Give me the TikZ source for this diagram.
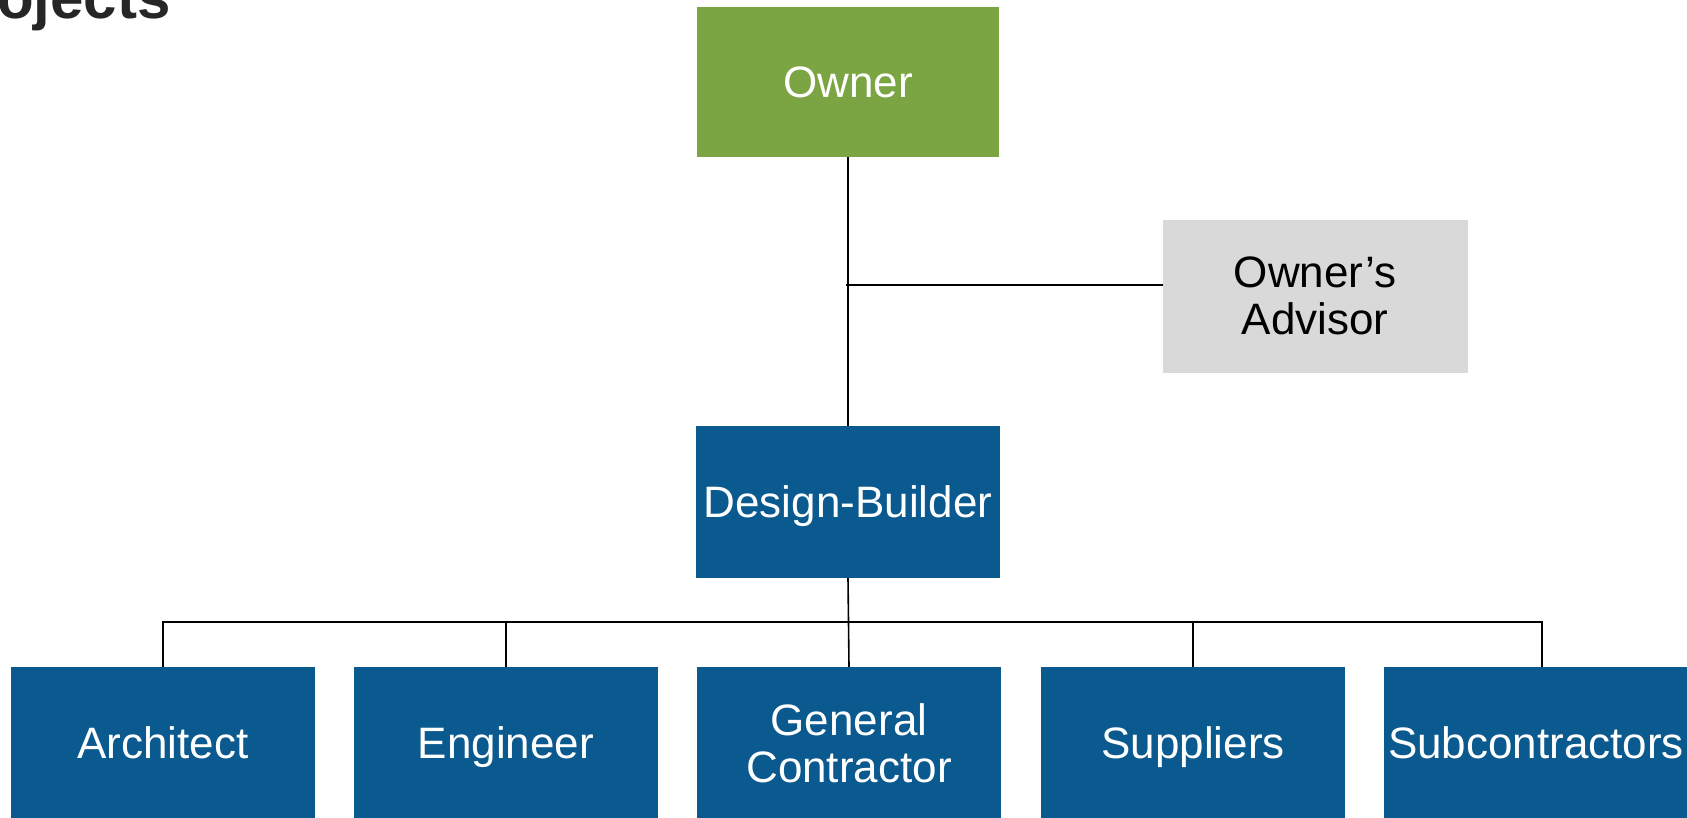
\documentclass[tikz,border=0pt]{standalone}
\usepackage{fontspec}
\setmainfont{Liberation Sans}
\definecolor{dbblue}{HTML}{0B5A8F}
\definecolor{owngreen}{HTML}{7AA542}
\definecolor{advgray}{HTML}{D9D9D9}
\definecolor{titlegray}{HTML}{262626}
\begin{document}
\begin{tikzpicture}[x=1pt,y=-1pt,
  box/.style={rectangle,inner sep=0pt,minimum width=304pt,minimum height=152pt,align=center,
    font=\fontsize{44}{47}\selectfont},
  oneline/.style={text height=31pt,text depth=1pt},
  bluebox/.style={box,fill=dbblue,text=white},
  greenbox/.style={box,fill=owngreen,text=white,minimum width=302pt,minimum height=150pt},
  graybox/.style={box,fill=advgray,draw=black!15,text=black},
  conn/.style={draw=black,line width=1.6pt}]
\useasboundingbox (0,0) rectangle (1687,817);
\node[anchor=base west,text=titlegray,font=\fontsize{60}{60}\bfseries,inner sep=0pt] (title) at (-3,18) {ojects};
\node[greenbox,oneline] (own) at (848,82) {Owner};
\node[graybox] (adv) at (1315,296) {Owner’s\\Advisor};
\node[bluebox,oneline] (db) at (848,502) {Design-Builder};
\node[bluebox,oneline] (arch) at (163,743) {Architect};
\node[bluebox,oneline] (eng) at (506,743) {Engineer};
\node[bluebox] (gc) at (849,743) {General\\Contractor};
\node[bluebox,oneline] (sup) at (1193,743) {Suppliers};
\node[bluebox,oneline] (sub) at (1536,743) {Subcontractors};
\coordinate (j) at (846,285);
\coordinate (bus) at (0,622);
\coordinate (subtop) at (1542,667);
\draw[conn] (own.south) -- (db.north);
\draw[conn] (j) -- (j -| adv.west);
\draw[conn] (db.south) -- (gc.north);
\draw[conn] (arch.north) -- (arch.north |- bus) -- (subtop |- bus) -- (subtop);
\draw[conn] (eng.north) -- (eng.north |- bus);
\draw[conn] (sup.north) -- (sup.north |- bus);
\end{tikzpicture}
\end{document}
